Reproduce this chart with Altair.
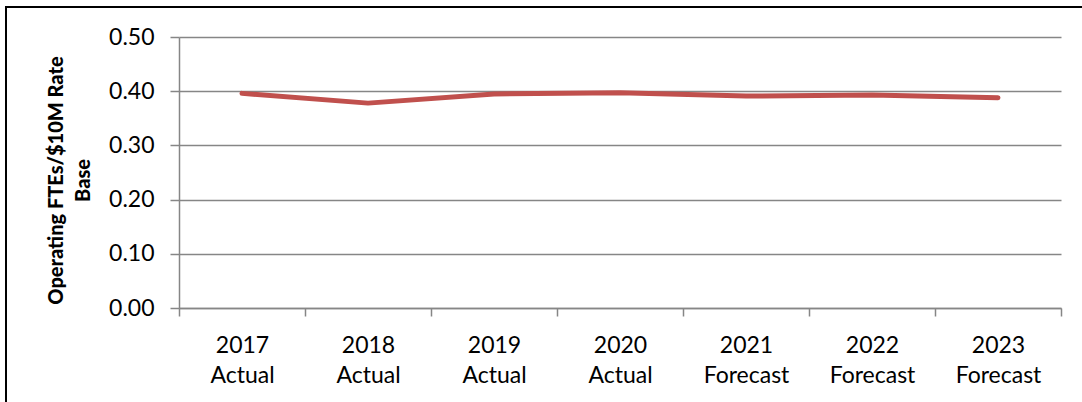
import altair as alt
import pandas as pd

# Categories and series values
years = ["2017", "2018", "2019", "2020", "2021", "2022", "2023"]
kinds = ["Actual", "Actual", "Actual", "Actual", "Forecast", "Forecast", "Forecast"]
ftes_per_10m = [0.396, 0.378, 0.395, 0.397, 0.391, 0.393, 0.388]
y_ticks = [0.0, 0.1, 0.2, 0.3, 0.4, 0.5]

labels = [f"{y} {k}" for y, k in zip(years, kinds)]
df = pd.DataFrame({"period": labels, "value": ftes_per_10m})

FONT = "Lato"
GREY = "#868686"

x_enc = alt.X(
    "period:N",
    sort=labels,
    scale=alt.Scale(paddingInner=0, paddingOuter=0),
    axis=alt.Axis(
        title=None,
        labelAngle=0,
        labelExpr="split(datum.label, ' ')",
        labelLineHeight=30,
        labelFontSize=23,
        labelFont=FONT,
        labelColor="black",
        labelPadding=18,
        tickBand="extent",
        tickSize=8,
        tickColor=GREY,
        tickWidth=1.5,
        domainColor=GREY,
        domainWidth=1.5,
        grid=False,
    ),
)

y_enc = alt.Y(
    "value:Q",
    scale=alt.Scale(domain=[0, 0.5], nice=False),
    axis=alt.Axis(
        title=["Operating FTEs/$10M Rate", "Base"],
        titleFont=FONT,
        titleFontSize=20,
        titleFontWeight=900,
        titleColor="black",
        titleAngle=-90,
        titleAlign="center",
        titleBaseline="top",
        titleX=-133,
        titleY=143,
        titleLineHeight=27,
        values=y_ticks,
        format=".2f",
        labelFontSize=23,
        labelFont=FONT,
        labelColor="black",
        labelPadding=16,
        tickSize=9,
        tickColor=GREY,
        tickWidth=1.5,
        domainColor=GREY,
        domainWidth=1.5,
        gridColor=GREY,
        gridWidth=1.5,
    ),
)

line = (
    alt.Chart(df)
    .mark_line(color="#C0504D", strokeWidth=5, strokeCap="round", strokeJoin="round")
    .encode(x=alt.X("period:N", sort=labels, bandPosition=0.5), y="value:Q")
)

base = alt.Chart(df).mark_point(opacity=0).encode(x=x_enc, y=y_enc)

# Outer frame of the figure (top and left edges)
frame_top = alt.Chart(df).mark_rule(color="black", strokeWidth=2, clip=False).encode(
    x=alt.value(-173), x2=alt.value(903), y=alt.value(-30)
)
frame_left = alt.Chart(df).mark_rule(color="black", strokeWidth=2, clip=False).encode(
    x=alt.value(-173), y=alt.value(-31), y2=alt.value(366)
)

chart = (
    alt.layer(base, line, frame_top, frame_left)
    .properties(
        width=882,
        height=271,
        autosize=alt.AutoSizeParams(type="none"),
        padding={"left": 179, "top": 37, "right": 21, "bottom": 94},
        background="white",
    )
    .configure_view(stroke=None)
)

chart.save("out.html", embed_options={"renderer": "svg", "actions": False})
